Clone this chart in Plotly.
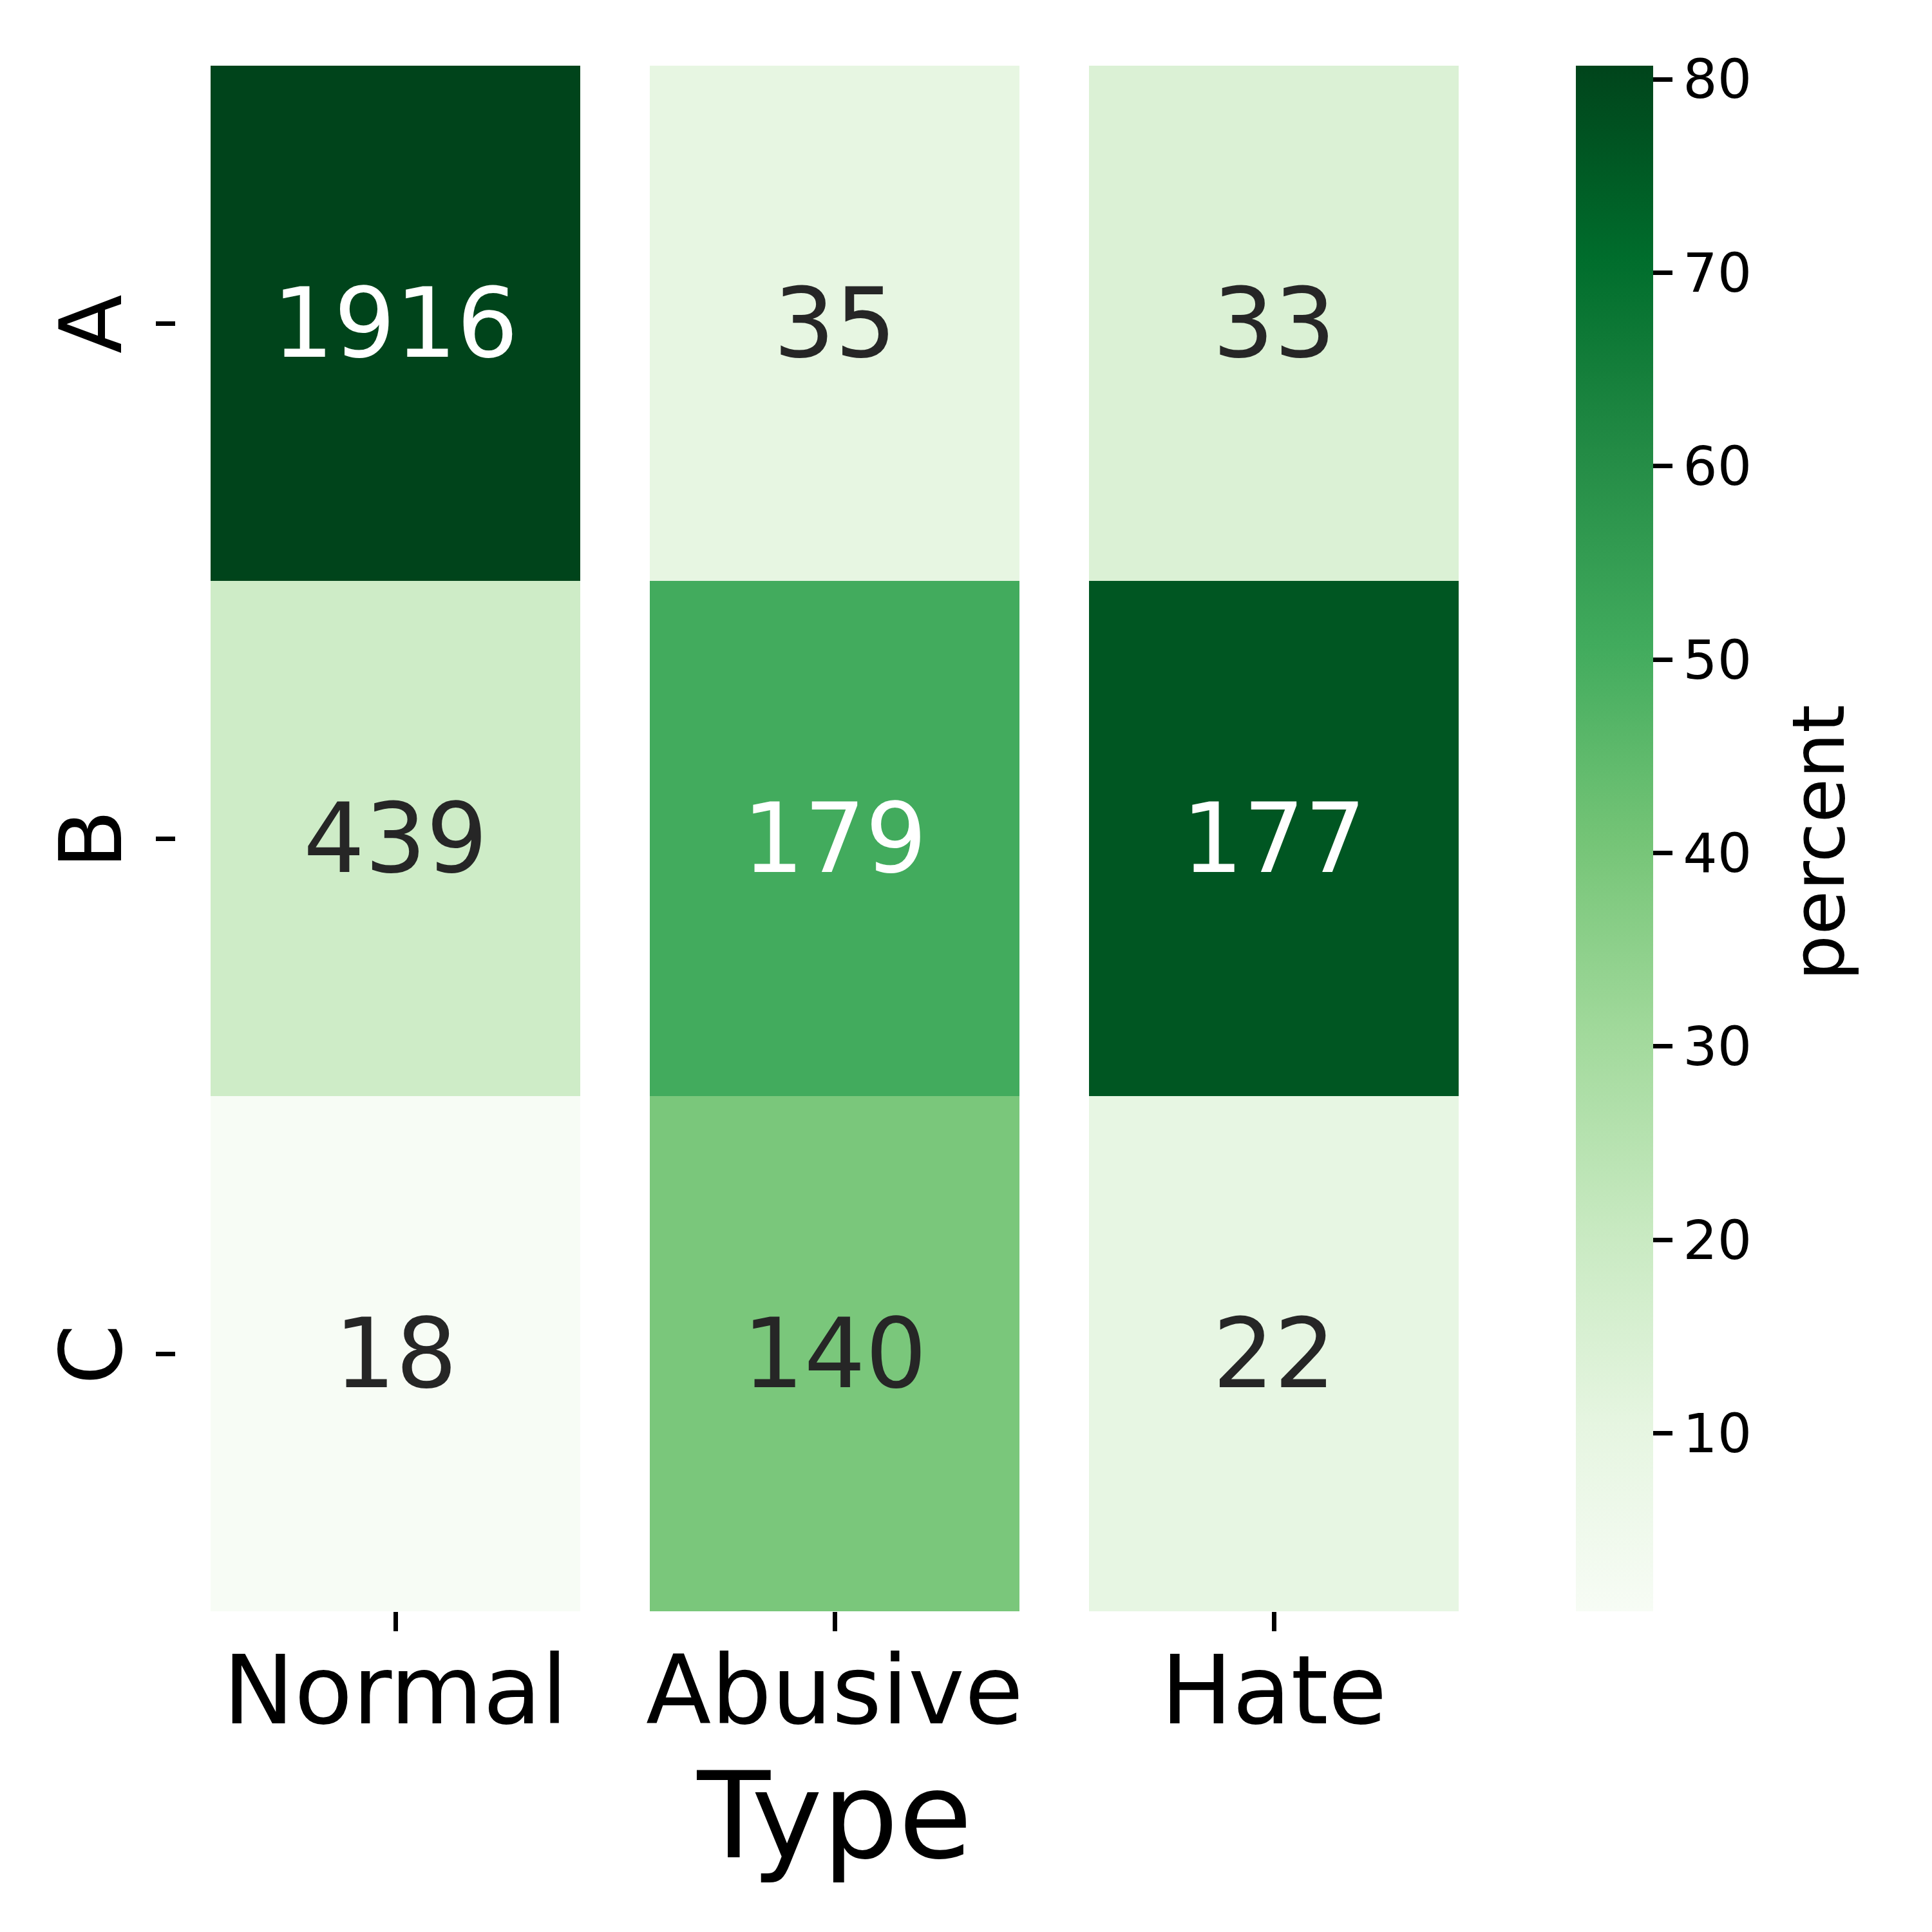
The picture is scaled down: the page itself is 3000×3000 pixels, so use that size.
import plotly.graph_objects as go

# ---- data ----
types = ["Normal", "Abusive", "Hate"]
groups = ["A", "B", "C"]
normal_count = [1916, 439, 18]
abusive_count = [35, 179, 140]
hate_count = [33, 177, 22]
normal_pct = [80.7, 18.5, 0.8]
abusive_pct = [9.9, 50.6, 39.5]
hate_pct = [14.2, 76.3, 9.5]
cbar_ticks = [10, 20, 30, 40, 50, 60, 70, 80]

counts_by_col = [normal_count, abusive_count, hate_count]
pct_by_col = [normal_pct, abusive_pct, hate_pct]
z = [[pct_by_col[j][i] for j in range(len(types))] for i in range(len(groups))]
counts = [[counts_by_col[j][i] for j in range(len(types))] for i in range(len(groups))]

GREENS = ['#f7fcf5', '#e5f5e0', '#c7e9c0', '#a1d99b', '#74c476',
          '#41ab5d', '#238b45', '#006d2c', '#00441b']
colorscale = [[i / (len(GREENS) - 1), c] for i, c in enumerate(GREENS)]


def hex2rgb(h):
    h = h.lstrip('#')
    return [int(h[k:k + 2], 16) for k in (0, 2, 4)]


def color_at(t):
    t = min(max(t, 0.0), 1.0)
    n = len(GREENS) - 1
    k = min(int(t * n), n - 1)
    f = t * n - k
    a, b = hex2rgb(GREENS[k]), hex2rgb(GREENS[k + 1])
    return [a[m] + (b[m] - a[m]) * f for m in range(3)]


def luminance(rgb):
    lin = []
    for c in rgb:
        c = c / 255.0
        lin.append(c / 12.92 if c <= 0.03928 else ((c + 0.055) / 1.055) ** 2.4)
    return 0.2126 * lin[0] + 0.7152 * lin[1] + 0.0722 * lin[2]


flat = [v for row in z for v in row]
zmin, zmax = min(flat), max(flat)

FONT = "DejaVu Sans"

fig = go.Figure()
fig.add_trace(go.Heatmap(
    z=z, x=types, y=groups,
    colorscale=colorscale, zmin=zmin, zmax=zmax,
    xgap=108, ygap=0,
    colorbar=dict(
        thickness=120, thicknessmode="pixels",
        len=1.0, lenmode="fraction",
        x=1.0626, xanchor="left", y=0.5, yanchor="middle",
        xpad=0, ypad=0, outlinewidth=0,
        ticks="outside", ticklen=30, tickwidth=7, tickcolor="black",
        tickvals=cbar_ticks,
        tickprefix='<span style="font-size:30px">\u00a0</span>',
        tickfont=dict(family=FONT, size=84, color="black"),
    ),
    hoverinfo="skip",
))

annotations = []
for i, g in enumerate(groups):
    for j, t in enumerate(types):
        val = z[i][j]
        rgb = color_at((val - zmin) / (zmax - zmin))
        col = "#262626" if luminance(rgb) > 0.408 else "white"
        annotations.append(dict(
            x=t, y=g, xref="x", yref="y", text=str(counts[i][j]),
            showarrow=False, font=dict(family=FONT, size=150, color=col)))

# colorbar label
annotations.append(dict(
    x=1.2468, y=0.4975, xref="paper", yref="paper",
    xanchor="center", yanchor="middle", textangle=-90,
    text="percent", showarrow=False,
    font=dict(family=FONT, size=112, color="black")))

fig.update_layout(
    width=3000, height=3000,
    margin=dict(l=265, r=689, t=94, b=506),
    paper_bgcolor="white", plot_bgcolor="white",
    annotations=annotations,
    font=dict(family=FONT, color="black"),
)
fig.update_xaxes(
    showgrid=False, zeroline=False, showline=False,
    ticks="outside", ticklen=30, tickwidth=7, tickcolor="black",
    ticklabelstandoff=-35,
    tickfont=dict(family=FONT, size=148, color="black"),
    title=dict(text="Type", font=dict(family=FONT, size=186, color="black"), standoff=25),
    automargin=False,
)
fig.update_yaxes(
    autorange="reversed",
    showgrid=False, zeroline=False, showline=False,
    ticks="outside", ticklen=30, tickwidth=7, tickcolor="black",
    tickangle=-90, ticklabelstandoff=0, ticksuffix="\u00a0",
    tickfont=dict(family=FONT, size=134, color="black"),
    automargin=False,
)

fig.write_html("out.html")
